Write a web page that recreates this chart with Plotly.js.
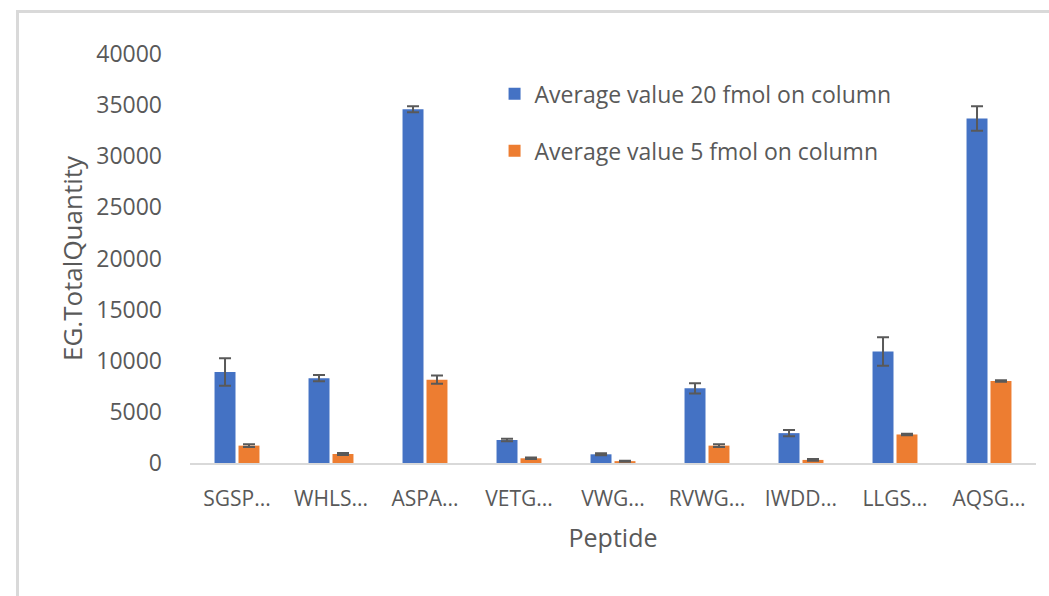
<!DOCTYPE html>
<html>
<head>
<meta charset="utf-8">
<script src="https://cdn.plot.ly/plotly-3.0.1.min.js"></script>
<style>
  html, body { margin: 0; padding: 0; background: #ffffff; }
  #wrap { position: relative; width: 1049px; height: 596px; overflow: hidden; }
  #frame { position: absolute; left: 16px; top: 10px; width: 1100px; height: 700px;
           border-left: 3px solid #d9d9d9; border-top: 3px solid #d9d9d9; pointer-events: none; }
  #chart { position: absolute; left: 0; top: 0; width: 1049px; height: 596px; }
</style>
</head>
<body>
<div id="wrap">
  <div id="chart"></div>
  <div id="frame"></div>
</div>
<script>
const peptides = ["SGSP...", "WHLS...", "ASPA...", "VETG...", "VWG...", "RVWG...", "IWDD...", "LLGS...", "AQSG..."];
const avg20 = [8900, 8300, 34600, 2250, 850, 7300, 2920, 10900, 33700];
const err20 = [1350, 300, 300, 120, 100, 500, 300, 1400, 1200];
const avg5 = [1700, 880, 8150, 460, 180, 1700, 300, 2790, 8020];
const err5 = [130, 100, 400, 80, 50, 130, 80, 80, 80];
const seriesNames = ["Average value 20 fmol on column", "Average value 5 fmol on column"];

const font = "Open Sans, Liberation Sans, sans-serif";
const grey = "#595959";

const traces = [
  {
    type: "bar", x: peptides, y: avg20, name: seriesNames[0], legendgroup: "a",
    marker: { color: "#4472C4" },
    error_y: { type: "data", array: err20, visible: true, color: grey, thickness: 2, width: 6 }
  },
  {
    type: "bar", x: peptides, y: avg5, name: seriesNames[1], legendgroup: "b",
    marker: { color: "#ED7D31" },
    error_y: { type: "data", array: err5, visible: true, color: grey, thickness: 2, width: 6 }
  }
];

const layout = {
  width: 1049, height: 596,
  margin: { l: 190, r: 13, t: 54, b: 133 },
  paper_bgcolor: "#ffffff", plot_bgcolor: "#ffffff",
  font: { family: font, color: grey, size: 21 },
  barmode: "group", bargap: 0.49, bargroupgap: 0.125,
  showlegend: true,
  legend: {
    x: 0.36, y: 0.955, xanchor: "left", yanchor: "top",
    traceorder: "grouped", tracegroupgap: 24,
    font: { family: font, size: 23, color: grey },
    bgcolor: "rgba(0,0,0,0)"
  },
  xaxis: {
    type: "category", showgrid: false, zeroline: false,
    showline: true, linecolor: "#d9d9d9", linewidth: 2,
    ticks: "", ticklabelstandoff: 16,
    tickfont: { family: font, size: 21, color: grey },
    title: { text: "Peptide", standoff: 18, font: { family: font, size: 25, color: grey } }
  },
  yaxis: {
    range: [0, 40000], dtick: 5000, tick0: 0, showgrid: false, zeroline: false,
    showline: false, ticks: "", ticklabelstandoff: 27,
    tickformat: "d",
    tickfont: { family: font, size: 23, color: grey },
    title: { text: "EG.TotalQuantity", standoff: 6, font: { family: font, size: 26, color: grey } }
  }
};

Plotly.newPlot("chart", traces, layout, { displayModeBar: false, staticPlot: true });
</script>
</body>
</html>
